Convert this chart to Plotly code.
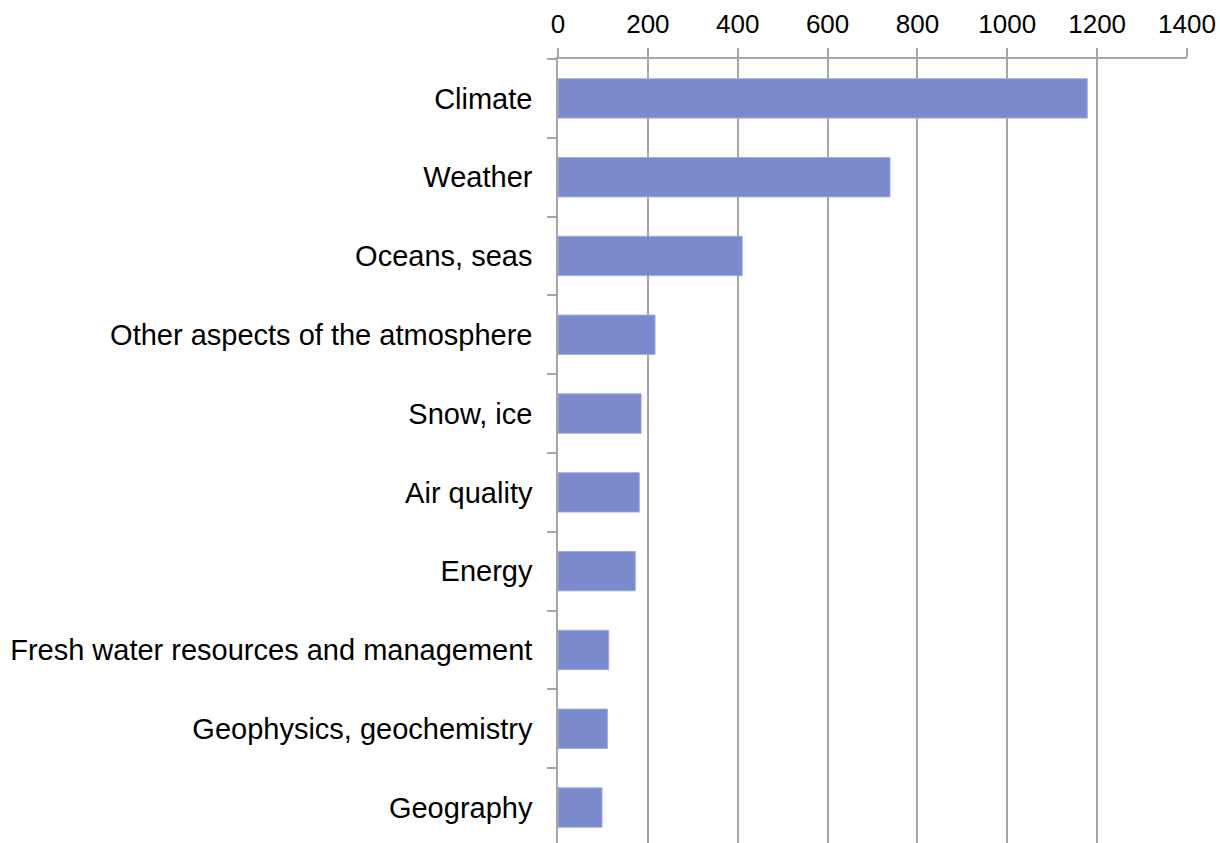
import plotly.graph_objects as go

categories = [
    "Climate",
    "Weather",
    "Oceans, seas",
    "Other aspects of the atmosphere",
    "Snow, ice",
    "Air quality",
    "Energy",
    "Fresh water resources and management",
    "Geophysics, geochemistry",
    "Geography",
]
values = [1178, 739, 410, 216, 185, 181, 172, 113, 110, 98]
x_ticks = [0, 200, 400, 600, 800, 1000, 1200, 1400]

FONT = "Liberation Sans, Arial, sans-serif"
GRID = "#a6a6a6"

fig = go.Figure(
    go.Bar(
        x=values,
        y=categories,
        orientation="h",
        width=0.5,
        marker=dict(color="#7b89cd", line=dict(color="#a3ade0", width=1)),
    )
)

fig.update_layout(
    width=1220,
    height=843,
    margin=dict(l=558, r=33, t=59, b=0, autoexpand=False),
    paper_bgcolor="white",
    plot_bgcolor="white",
    showlegend=False,
    font=dict(family=FONT, color="black"),
)

fig.update_xaxes(
    side="top",
    range=[0, 1400],
    tickvals=x_ticks,
    ticktext=[str(v) for v in x_ticks],
    tickfont=dict(size=26, family=FONT, color="black"),
    showgrid=True,
    gridcolor=GRID,
    gridwidth=1.5,
    showline=True,
    linecolor=GRID,
    linewidth=1.5,
    ticks="outside",
    ticklen=9,
    tickcolor=GRID,
    tickwidth=1.5,
    ticklabelstandoff=5,
    ticklabeloverflow="allow",
    zeroline=False,
)

fig.update_yaxes(
    type="category",
    categoryorder="array",
    categoryarray=categories,
    range=[9.45, -0.5],
    tickfont=dict(size=29, family=FONT, color="black"),
    showgrid=False,
    showline=True,
    linecolor=GRID,
    linewidth=1.5,
    ticks="outside",
    tickson="boundaries",
    ticklen=9,
    tickcolor=GRID,
    tickwidth=1.5,
    ticklabelstandoff=18,
    ticklabeloverflow="allow",
    zeroline=False,
)

# remove the default 8px page margin so the 1220x843 figure fills the window exactly
fig.write_html(
    "out.html",
    config={"displayModeBar": False},
    post_script="document.body.style.margin='0';document.body.style.overflow='hidden';",
)
